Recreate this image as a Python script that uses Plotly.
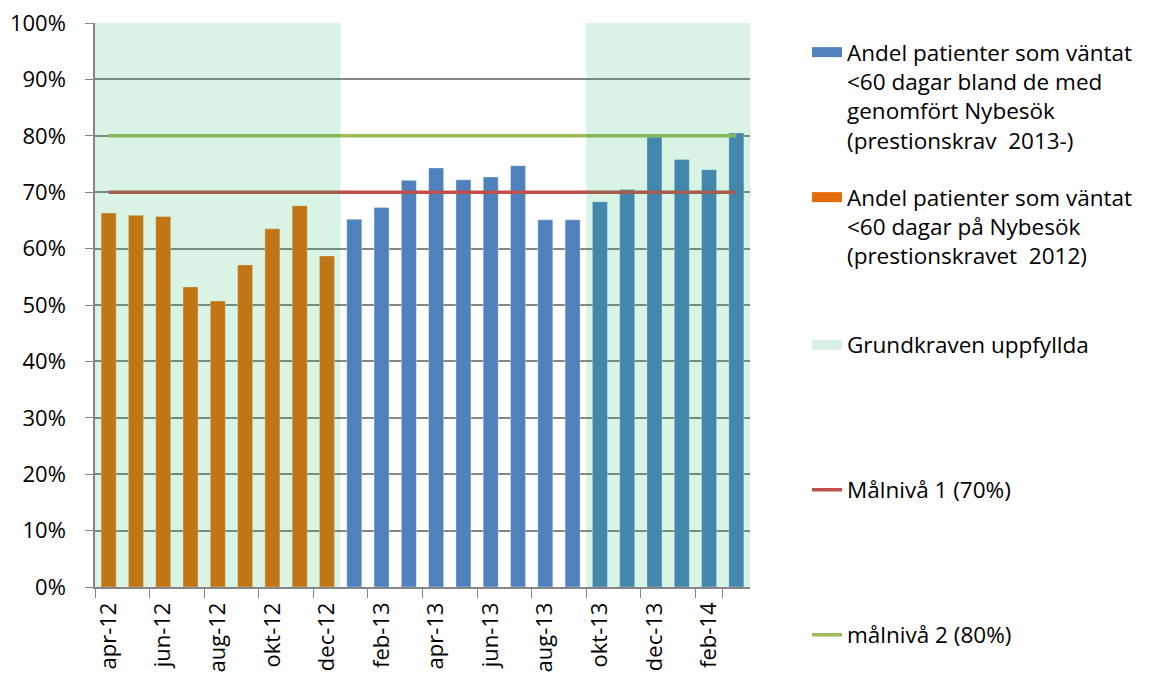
import plotly.graph_objects as go

months = ["apr-12", "maj-12", "jun-12", "jul-12", "aug-12", "sep-12", "okt-12", "nov-12", "dec-12",
          "jan-13", "feb-13", "mar-13", "apr-13", "maj-13", "jun-13", "jul-13", "aug-13", "sep-13",
          "okt-13", "nov-13", "dec-13", "jan-14", "feb-14", "mar-14"]

# Andel <60 dagar på Nybesök (prestionskravet 2012)
orange_vals = [0.663, 0.659, 0.657, 0.532, 0.507, 0.571, 0.635, 0.676, 0.587,
               None, None, None, None, None, None, None, None, None,
               None, None, None, None, None, None]
# Andel <60 dagar bland de med genomfört Nybesök (prestionskrav 2013-)
blue_vals = [None, None, None, None, None, None, None, None, None,
             0.652, 0.673, 0.721, 0.743, 0.722, 0.727, 0.747, 0.651, 0.651,
             0.683, 0.705, 0.798, 0.758, 0.740, 0.805]
target1 = [0.70] * 24
target2 = [0.80] * 24
# Grundkraven uppfyllda (1 = yes)
grundkrav = [1, 1, 1, 1, 1, 1, 1, 1, 1,
             0, 0, 0, 0, 0, 0, 0, 0, 0,
             1, 1, 1, 1, 1, 1]
tick_labels = months[::2]

name_blue = "Andel patienter som väntat<br><60 dagar bland de med<br>genomfört Nybesök<br>(prestionskrav  2013-)"
name_orange = "Andel patienter som väntat<br><60 dagar på Nybesök<br>(prestionskravet  2012)"

FONT = "Open Sans"
fig = go.Figure()
fig.add_trace(go.Bar(x=months, y=blue_vals, name=name_blue, marker_color="#4F81BD",
                     marker_line=dict(color="rgba(255,255,255,0.35)", width=1),
                     showlegend=False))
fig.add_trace(go.Bar(x=months, y=orange_vals, name=name_orange, marker_color="#E46C0A",
                     marker_line=dict(color="rgba(255,255,255,0.35)", width=1),
                     showlegend=False))
fig.add_trace(go.Scatter(x=months, y=target1, mode="lines", name="Målnivå 1 (70%)",
                         line=dict(color="#C0504D", width=3.5), legend="legend4"))
fig.add_trace(go.Scatter(x=months, y=target2, mode="lines", name="målnivå 2 (80%)",
                         line=dict(color="#9BBB59", width=3.5), legend="legend5"))
# legend swatches for the bar series and the shaded band
fig.add_trace(go.Scatter(x=[None], y=[None], mode="lines", name=name_blue,
                         line=dict(color="#4F81BD", width=15), legend="legend"))
fig.add_trace(go.Scatter(x=[None], y=[None], mode="lines", name=name_orange,
                         line=dict(color="#E46C0A", width=15), legend="legend2"))
fig.add_trace(go.Scatter(x=[None], y=[None], mode="lines", name="Grundkraven uppfyllda",
                         line=dict(color="#D8F1E3", width=15), legend="legend3"))

# shaded regions from grundkrav
shapes = []
i = 0
while i < len(grundkrav):
    if grundkrav[i]:
        j = i
        while j + 1 < len(grundkrav) and grundkrav[j + 1]:
            j += 1
        shapes.append(dict(type="rect", xref="x", yref="y", x0=i - 0.5, x1=j + 0.5, y0=0, y1=1,
                           fillcolor="#00B050", opacity=0.15, line_width=0, layer="above"))
        i = j + 1
    else:
        i += 1

W, H = 1150, 677
leg_common = dict(xref="container", yref="container", xanchor="left",
                  font=dict(family=FONT, size=22.5, color="#000000"), bgcolor="rgba(0,0,0,0)",
                  valign="top", x=799 / W)

fig.update_layout(
    width=W, height=H,
    margin=dict(l=87, r=408, t=15, b=98, autoexpand=False),
    paper_bgcolor="white", plot_bgcolor="white",
    barmode="overlay", bargap=0.45,
    shapes=shapes,
    font=dict(family=FONT, color="#000000"),
    legend=dict(**leg_common, y=1 - 23 / H, yanchor="top"),
    legend2=dict(**leg_common, y=1 - 168 / H, yanchor="top"),
    legend3=dict(**leg_common, y=1 - 337 / H, yanchor="middle"),
    legend4=dict(**leg_common, y=1 - 482 / H, yanchor="middle"),
    legend5=dict(**leg_common, y=1 - 627 / H, yanchor="middle"),
    xaxis=dict(type="category", categoryorder="array", categoryarray=months,
               tickmode="array", tickvals=tick_labels, ticktext=tick_labels,
               tickangle=-90, ticks="outside", ticklen=9, tickcolor="#868686",
               tickson="boundaries", ticklabeloverflow="allow", ticklabelstandoff=5,
               showline=True, linecolor="#868686", linewidth=1.5, showgrid=False,
               tickfont=dict(family=FONT, size=22), range=[-0.5, 23.5]),
    yaxis=dict(range=[0, 1], tickvals=[i / 10 for i in range(11)], tickformat=".0%",
               ticks="outside", ticklen=8, tickcolor="#868686", ticklabeloverflow="allow",
               showline=True, linecolor="#868686", linewidth=1.5,
               showgrid=True, gridcolor="#868686", gridwidth=1.5,
               tickfont=dict(family=FONT, size=22), ticklabelstandoff=15, zeroline=False),
)

fig.write_html("out.html")
